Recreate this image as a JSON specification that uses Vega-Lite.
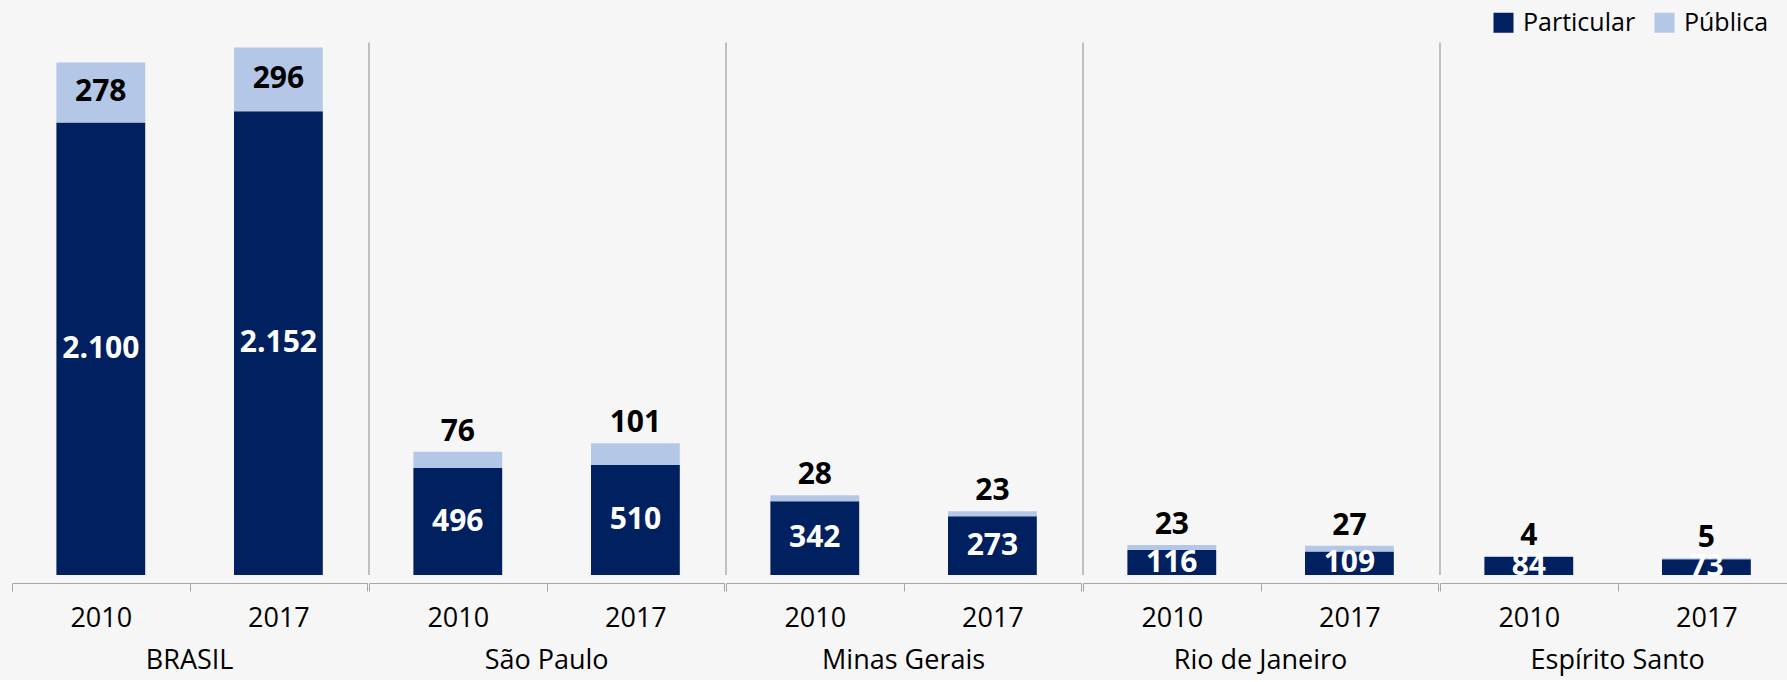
{
  "$schema": "https://vega.github.io/schema/vega-lite/v6.json",
  "padding": {"left": 11, "top": 5, "right": 0, "bottom": 6},
  "background": "#f6f6f6",
  "data": {"values": [
    {"group": "BRASIL", "year": "2010", "type": "Particular", "value": 2100},
    {"group": "BRASIL", "year": "2010", "type": "Pública", "value": 278},
    {"group": "BRASIL", "year": "2017", "type": "Particular", "value": 2152},
    {"group": "BRASIL", "year": "2017", "type": "Pública", "value": 296},
    {"group": "São Paulo", "year": "2010", "type": "Particular", "value": 496},
    {"group": "São Paulo", "year": "2010", "type": "Pública", "value": 76},
    {"group": "São Paulo", "year": "2017", "type": "Particular", "value": 510},
    {"group": "São Paulo", "year": "2017", "type": "Pública", "value": 101},
    {"group": "Minas Gerais", "year": "2010", "type": "Particular", "value": 342},
    {"group": "Minas Gerais", "year": "2010", "type": "Pública", "value": 28},
    {"group": "Minas Gerais", "year": "2017", "type": "Particular", "value": 273},
    {"group": "Minas Gerais", "year": "2017", "type": "Pública", "value": 23},
    {"group": "Rio de Janeiro", "year": "2010", "type": "Particular", "value": 116},
    {"group": "Rio de Janeiro", "year": "2010", "type": "Pública", "value": 23},
    {"group": "Rio de Janeiro", "year": "2017", "type": "Particular", "value": 109},
    {"group": "Rio de Janeiro", "year": "2017", "type": "Pública", "value": 27},
    {"group": "Espírito Santo", "year": "2010", "type": "Particular", "value": 84},
    {"group": "Espírito Santo", "year": "2010", "type": "Pública", "value": 4},
    {"group": "Espírito Santo", "year": "2017", "type": "Particular", "value": 73},
    {"group": "Espírito Santo", "year": "2017", "type": "Pública", "value": 5}
  ]},
  "facet": {
    "column": {
      "field": "group", "type": "nominal",
      "sort": ["BRASIL", "São Paulo", "Minas Gerais", "Rio de Janeiro", "Espírito Santo"],
      "header": {"title": null, "labelOrient": "bottom", "labelFontSize": 27, "labelFont": "Open Sans", "labelColor": "#000000", "labelPadding": 17}
    }
  },
  "spacing": 0,
  "spec": {
    "width": 355.2,
    "height": 570,
    "layer": [
      {
        "mark": {"type": "bar", "width": {"band": 0.5}},
        "encoding": {
          "x": {"field": "year", "type": "nominal", "scale": {"paddingInner": 0, "paddingOuter": 0},
            "axis": {"title": null, "labelAngle": 0, "labelFontSize": 27, "labelFont": "Open Sans", "labelColor": "#000000", "labelPadding": 14, "labelBaseline": "top", "tickBand": "extent", "tickSize": 8, "tickColor": "#a6a6a6", "domainColor": "#a6a6a6"}},
          "y": {"field": "value", "type": "quantitative", "stack": "zero", "scale": {"domain": [0, 2645], "nice": false}, "axis": null},
          "order": {"field": "type", "sort": "ascending"},
          "color": {"field": "type", "type": "nominal",
            "scale": {"domain": ["Particular", "Pública"], "range": ["#002060", "#b4c7e7"]},
            "legend": {"orient": "none", "legendX": 1479, "legendY": 5, "direction": "horizontal", "title": null, "symbolType": "square", "symbolSize": 400, "symbolStrokeWidth": 0, "labelFontSize": 25, "labelFont": "Open Sans", "labelColor": "#000000", "columnPadding": 16, "labelOffset": 7, "padding": 0}}
        }
      },
      {
        "mark": {"type": "text", "fontSize": 30, "fontWeight": "bold", "font": "Open Sans", "baseline": "middle"},
        "encoding": {
          "x": {"field": "year", "type": "nominal"},
          "y": {"field": "value", "type": "quantitative", "stack": "zero", "bandPosition": 0.5},
          "detail": {"field": "type"},
          "order": {"field": "type", "sort": "ascending"},
          "text": {"condition": {"test": "datum.type === 'Particular' || datum.group === 'BRASIL'", "field": "value", "type": "quantitative", "format": ",d"}, "value": ""},
          "color": {"condition": {"test": "datum.type === 'Particular'", "value": "#ffffff"}, "value": "#000000"}
        }
      },
      {
        "mark": {"type": "text", "fontSize": 30, "fontWeight": "bold", "font": "Open Sans", "baseline": "alphabetic", "dy": -11, "color": "#000000"},
        "encoding": {
          "x": {"field": "year", "type": "nominal"},
          "y": {"field": "value", "type": "quantitative", "stack": "zero"},
          "detail": {"field": "type"},
          "order": {"field": "type", "sort": "ascending"},
          "text": {"condition": {"test": "datum.type === 'Pública' && datum.group !== 'BRASIL'", "field": "value", "type": "quantitative", "format": ",d"}, "value": ""}
        }
      },
      {
        "transform": [{"filter": "datum.group !== 'BRASIL' && datum.year === '2010' && datum.type === 'Particular'"}],
        "mark": {"type": "rule", "color": "#898989", "strokeWidth": 1},
        "encoding": {
          "x": {"field": "year", "type": "nominal", "bandPosition": 0},
          "y": {"datum": 0},
          "y2": {"datum": 2471}
        }
      }
    ]
  },
  "config": {
    "view": {"stroke": null},
    "locale": {"number": {"decimal": ",", "thousands": ".", "grouping": [3], "currency": ["R$", ""]}}
  }
}
